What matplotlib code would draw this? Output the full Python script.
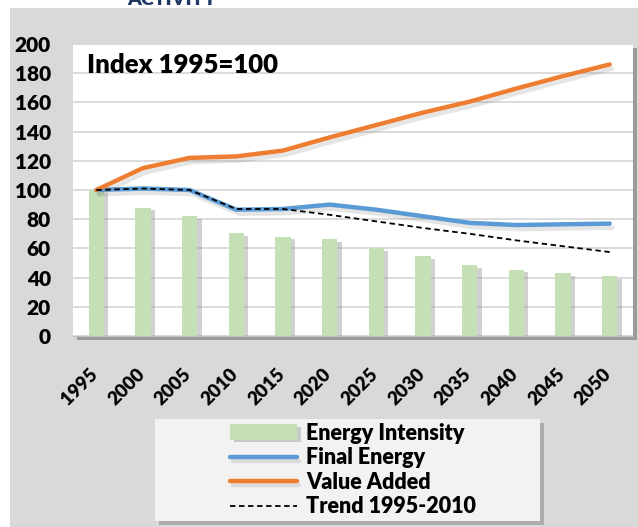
import matplotlib.pyplot as plt
import matplotlib.patheffects as pe
import matplotlib.transforms as mtransforms
from matplotlib.patches import Rectangle
import numpy as np

# data
years = ["1995", "2000", "2005", "2010", "2015", "2020",
         "2025", "2030", "2035", "2040", "2045", "2050"]
energy_intensity = [100, 88, 82, 70.5, 68, 66.5, 60, 54.5, 48.5, 45.5, 43, 41]
final_energy = [100, 101, 100, 86.5, 87, 90, 86.5, 82, 77.5, 76, 76.5, 77]
value_added = [100, 115, 122, 123, 127, 136, 144.5, 153, 160.5, 169.5, 178, 186]
trend = [100, 101, 100, 87, 87, 83, 78.5, 74, 70, 65.5, 61.5, 57.5]

plt.rcParams['font.family'] = ['Lato', 'DejaVu Sans']
plt.rcParams['font.weight'] = 'heavy'

W, H = 638, 527
fig = plt.figure(figsize=(W / 100, H / 100), dpi=100)
fig.patch.set_facecolor("white")

# gray chart background
fig.patches.append(Rectangle((10 / W, 0), 1, 1 - 8 / H, transform=fig.transFigure,
                             facecolor="#d9d9d9", edgecolor="none", zorder=-5))
# cut-off title at the very top
fig.text(172 / W, 1 - 5 / H, "ACTIVITY", ha="center", va="baseline",
         fontsize=14, fontweight="heavy", color="#1f3864")

ax = fig.add_axes([73 / W, 1 - 336 / H, (633 - 73) / W, (336 - 44) / H])
ax.set_zorder(2)
ax.set_facecolor("white")
ax.patch.set_path_effects([pe.SimplePatchShadow(offset=(3, -3), shadow_rgbFace="0.45", alpha=0.6), pe.Normal()])

x = np.arange(len(years))
shadow_bar = [pe.SimplePatchShadow(offset=(3, -2), shadow_rgbFace="0.55", alpha=0.4), pe.Normal()]
shadow_line = [pe.SimpleLineShadow(offset=(2, -3), shadow_color="0.5", alpha=0.2), pe.Normal()]

bars = ax.bar(x, energy_intensity, width=0.33, color="#c5e0b4", label="Energy Intensity", zorder=2)
for b in bars:
    b.set_path_effects(shadow_bar)
ax.plot(x, final_energy, color="#5b9bd5", lw=3.2, solid_capstyle="round",
        label="Final Energy", zorder=3, path_effects=shadow_line)
ax.plot(x, value_added, color="#ed7d31", lw=3.2, solid_capstyle="round",
        label="Value Added", zorder=4, path_effects=shadow_line)
ax.plot(x, trend, color="black", lw=1.3, ls=(0, (3, 2)),
        label="Trend 1995-2010", zorder=5)

ax.set_xlim(-0.5, len(years) - 0.5)
ax.set_ylim(0, 200)
ax.set_yticks(range(0, 201, 20))
ax.yaxis.grid(True, color="#d9d9d9", lw=1.3, zorder=0)
ax.set_axisbelow(True)
for s in ["top", "right", "left"]:
    ax.spines[s].set_visible(False)
ax.spines["bottom"].set_color("#bfbfbf")
ax.tick_params(axis="y", length=0, pad=16, labelsize=15)
ax.tick_params(axis="x", length=0, pad=21, labelsize=13.5)
ax.set_xticks(x)
ax.set_xticklabels(years, rotation=45, ha="right", va="top")
shift = mtransforms.ScaledTranslation(5 / 100, 0, fig.dpi_scale_trans)
for lab in ax.get_xticklabels():
    lab.set_transform(lab.get_transform() + shift)
for lab in ax.get_xticklabels() + ax.get_yticklabels():
    lab.set_fontweight("heavy")

ax.text(0.025, 0.928, "Index 1995=100", transform=ax.transAxes, fontsize=18.5,
        fontweight="heavy", va="center", ha="left")

# legend box
fig.patches.append(Rectangle((155 / W, 1 - 521 / H), (540 - 155) / W, (521 - 419) / H,
                             transform=fig.transFigure, facecolor="#f2f2f2", edgecolor="none",
                             zorder=1, path_effects=[pe.SimplePatchShadow(offset=(3, -3), shadow_rgbFace="0.5", alpha=0.5), pe.Normal()]))
handles, labels = ax.get_legend_handles_labels()
order = [labels.index(l) for l in ["Energy Intensity", "Final Energy", "Value Added", "Trend 1995-2010"]]
leg = fig.legend([handles[i] for i in order], [labels[i] for i in order],
                 loc="center", bbox_to_anchor=(353 / W, 1 - 470 / H),
                 frameon=False, handlelength=3.1, handletextpad=0.45,
                 labelspacing=0.17, prop={"weight": "heavy", "size": 15.5})
leg.set_zorder(3)

fig.savefig("out.png", dpi=100)
